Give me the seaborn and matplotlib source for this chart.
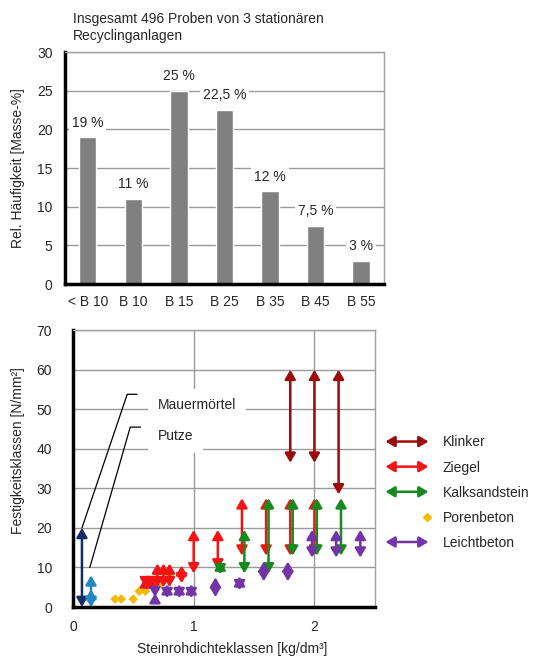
import matplotlib

matplotlib.use("Agg")
import matplotlib.patches as mpatches
import matplotlib.pyplot as plt
import seaborn as sns
from matplotlib.legend_handler import HandlerBase
from matplotlib.lines import Line2D

# Oberes Diagramm: Festigkeitsklassen der Proben
classes = ["< B 10", "B 10", "B 15", "B 25", "B 35", "B 45", "B 55"]
shares = [19, 11, 25, 22.5, 12, 7.5, 3]
share_labels = ["19 %", "11 %", "25 %", "22,5 %", "12 %", "7,5 %", "3 %"]

# Unteres Diagramm: Bereiche (Rohdichte, von, bis)
klinker_x = [1.8, 2.0, 2.2]
klinker_lo = [36.5, 36.5, 28.5]
klinker_hi = [60, 60, 60]

ziegel_x = [0.6, 0.65, 0.7, 0.75, 0.8, 0.9, 1.0, 1.2, 1.4, 1.6, 1.8, 2.0]
ziegel_lo = [5, 5, 5, 5, 5, 6, 8.5, 9.5, 13, 13, 13, 13]
ziegel_hi = [7.5, 7.5, 11, 11, 11, 10.5, 19.5, 19.5, 27.5, 27.5, 27.5, 27.5]

kalk_x = [1.22, 1.42, 1.62, 1.82, 2.02, 2.22]
kalk_lo = [8.25, 8.5, 8.5, 13, 13, 13]
kalk_hi = [11.75, 19.5, 27.5, 27.5, 27.5, 27.5]

leicht_x = [0.68, 0.78, 0.88, 0.98, 1.18, 1.38, 1.58, 1.78, 1.98, 2.18, 2.38]
leicht_lo = [2.5, 2.25, 2.25, 2.25, 2.5, 4.25, 6.5, 6.5, 12.5, 12.5, 12.5]
leicht_hi = [3.5, 5.75, 5.75, 5.75, 7.5, 7.75, 11.5, 11.5, 19.5, 19.5, 19.5]

poren_x = [0.35, 0.4, 0.5, 0.55, 0.6, 0.64, 0.69, 0.73, 0.8]
poren_y = [2, 2, 2, 4, 4, 6, 6, 6, 8]

moertel_x = [0.075]
moertel_lo = [0]
moertel_hi = [20]

putze_x = [0.15, 0.15]
putze_lo = [0, 0]
putze_hi = [8, 4.5]

# Hinweislinien zu den Beschriftungen
moertel_leader_x = [0.075, 0.45, 0.53]
moertel_leader_y = [20, 53.8, 53.8]
putze_leader_x = [0.14, 0.475, 0.56]
putze_leader_y = [10, 45.5, 45.5]

C_KLINKER = "#9C0A0A"
C_ZIEGEL = "#F21414"
C_KALK = "#178A1E"
C_POREN = "#F5B800"
C_LEICHT = "#7234A6"
C_MOERTEL = "#132C66"
C_PUTZE = "#2386C6"
GRID = "#9A9A9A"

ARROW = "<|-|>,head_length=0.55,head_width=0.32"


def draw_ranges(ax, xs, lows, highs, color):
    for x, lo, hi in zip(xs, lows, highs):
        ax.annotate(
            "",
            xy=(x, hi),
            xytext=(x, lo),
            arrowprops=dict(
                arrowstyle=ARROW,
                color=color,
                lw=1.8,
                shrinkA=0,
                shrinkB=0,
                mutation_scale=10,
            ),
        )


class HandlerArrow(HandlerBase):
    def create_artists(self, legend, orig_handle, xdescent, ydescent,
                       width, height, fontsize, trans):
        y = height / 2 - ydescent
        arrow = mpatches.FancyArrowPatch(
            (-xdescent, y), (width - xdescent, y),
            arrowstyle=ARROW, mutation_scale=10, lw=1.8,
            color=orig_handle.get_edgecolor(),
        )
        arrow.set_transform(trans)
        return [arrow]


class HandlerDot(HandlerBase):
    def create_artists(self, legend, orig_handle, xdescent, ydescent,
                       width, height, fontsize, trans):
        dot = Line2D([width - xdescent - 3], [height / 2 - ydescent],
                     marker="D", linestyle="", markersize=3.8,
                     color=orig_handle.get_color())
        dot.set_transform(trans)
        return [dot]


def style_axes(ax):
    for side in ("top", "right"):
        ax.spines[side].set_color("#A0A0A0")
        ax.spines[side].set_linewidth(1.0)
    for side in ("left", "bottom"):
        ax.spines[side].set_color("black")
        ax.spines[side].set_linewidth(2.5)
    ax.set_axisbelow(True)


sns.set_style("white")
plt.rcParams["font.family"] = ["Liberation Sans", "DejaVu Sans"]
plt.rcParams["font.size"] = 10

fig = plt.figure(figsize=(5.44, 6.59), dpi=100)

# --- oben: Balkendiagramm ---
ax1 = fig.add_axes([0.1195, 0.569, 0.586, 0.352])
sns.barplot(x=classes, y=shares, color="#808080", saturation=1,
            width=0.38, ax=ax1)
style_axes(ax1)
ax1.set_ylim(0, 30)
ax1.set_yticks(range(0, 31, 5))
ax1.yaxis.grid(True, color=GRID, lw=1.0)
ax1.tick_params(length=0, labelsize=10)
ax1.tick_params(axis="y", pad=9)
ax1.tick_params(axis="x", pad=8)
ax1.set_xlabel("")
ax1.set_ylabel("Rel. Häufigkeit [Masse-%]", fontsize=10)
ax1.yaxis.set_label_coords(-0.125, 0.5)
for i, (v, lab) in enumerate(zip(shares, share_labels)):
    ax1.annotate(lab, (i, v), xytext=(0, 10.5), textcoords="offset points",
                 ha="center", va="center", fontsize=10,
                 bbox=dict(facecolor="white", edgecolor="none", pad=2))

fig.text(0.134, 0.982, "Insgesamt 496 Proben von 3 stationären\nRecyclinganlagen",
         ha="left", va="top", fontsize=10, linespacing=1.25)

# --- unten: Festigkeit über Rohdichte ---
ax2 = fig.add_axes([0.134, 0.0789, 0.555, 0.420])
style_axes(ax2)
ax2.set_xlim(0, 2.5)
ax2.set_ylim(0, 70)
ax2.set_xticks([0, 1, 2])
ax2.set_yticks(range(0, 71, 10))
ax2.grid(True, color=GRID, lw=1.0)
ax2.tick_params(length=0, labelsize=10)
ax2.tick_params(axis="y", pad=15)
ax2.tick_params(axis="x", pad=9)

sns.scatterplot(x=poren_x, y=poren_y, marker="D", color=C_POREN, s=24,
                edgecolor="none", ax=ax2, zorder=3)
draw_ranges(ax2, klinker_x, klinker_lo, klinker_hi, C_KLINKER)
draw_ranges(ax2, ziegel_x, ziegel_lo, ziegel_hi, C_ZIEGEL)
draw_ranges(ax2, kalk_x, kalk_lo, kalk_hi, C_KALK)
draw_ranges(ax2, leicht_x, leicht_lo, leicht_hi, C_LEICHT)
draw_ranges(ax2, moertel_x, moertel_lo, moertel_hi, C_MOERTEL)
draw_ranges(ax2, putze_x, putze_lo, putze_hi, C_PUTZE)

ax2.plot(moertel_leader_x, moertel_leader_y, color="black", lw=0.9)
ax2.plot(putze_leader_x, putze_leader_y, color="black", lw=0.9)
ax2.text(0.7, 51, "Mauermörtel", ha="left", va="center", fontsize=10,
         bbox=dict(facecolor="white", edgecolor="none", pad=7))
ax2.text(0.7, 43.3, "Putze", ha="left", va="center", fontsize=10,
         bbox=dict(facecolor="white", edgecolor="none", pad=7))

ax2.set_xlabel("Steinrohdichteklassen [kg/dm³]", fontsize=10)
ax2.xaxis.set_label_coords(0.527, -0.128)
ax2.set_ylabel("Festigkeitsklassen [N/mm²]", fontsize=10)
ax2.yaxis.set_label_coords(-0.159, 0.567)

handles = [
    mpatches.FancyArrowPatch((0, 0), (1, 0), color=C_KLINKER),
    mpatches.FancyArrowPatch((0, 0), (1, 0), color=C_ZIEGEL),
    mpatches.FancyArrowPatch((0, 0), (1, 0), color=C_KALK),
    Line2D([], [], color=C_POREN, marker="D"),
    mpatches.FancyArrowPatch((0, 0), (1, 0), color=C_LEICHT),
]
labels = ["Klinker", "Ziegel", "Kalksandstein", "Porenbeton", "Leichtbeton"]
ax2.legend(
    handles, labels,
    handler_map={mpatches.FancyArrowPatch: HandlerArrow(), Line2D: HandlerDot()},
    loc="upper left", bbox_to_anchor=(1.026, 0.62),
    frameon=False, fontsize=10, borderpad=0, borderaxespad=0,
    handlelength=3.5, handletextpad=0.8, labelspacing=0.8,
)

fig.savefig("out.png", dpi=100)
